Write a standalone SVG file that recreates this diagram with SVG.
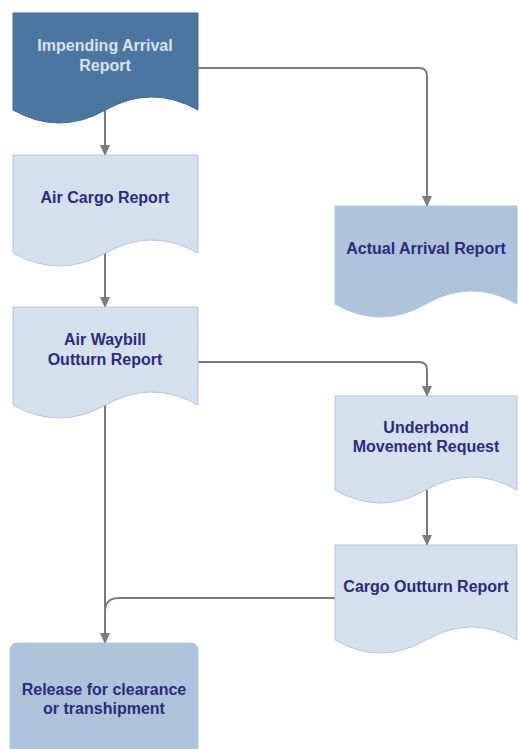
<svg xmlns="http://www.w3.org/2000/svg" width="519" height="749" viewBox="0 0 519 749">
<style>
.lbl{font-family:"Liberation Sans",Arial,sans-serif;font-weight:bold;font-size:16px;fill:#2b2b7e;text-anchor:middle}
.lt{fill:#d8e2ee}
.doc{stroke:#b4c5da;stroke-width:1}
.pale{fill:#d4e0ee}
.mid{fill:#adc2db}
.dark{fill:#4a77a2;stroke:#41698f}
.con{fill:none;stroke:#7b7b7d;stroke-width:2}
</style>
<defs>
<marker id="arr" markerUnits="userSpaceOnUse" markerWidth="11" markerHeight="10" refX="10" refY="5" orient="auto">
<path d="M0,0 L11,5 L0,10 z" fill="#7b7b7d"/>
</marker>
</defs>
<rect width="519" height="749" fill="#ffffff"/>
<g id="connectors">
<path class="con" d="M105,110 V155" marker-end="url(#arr)"/>
<path class="con" d="M105,253 V307" marker-end="url(#arr)"/>
<path class="con" d="M198,68 H419 Q427,68 427,76 V206" marker-end="url(#arr)"/>
<path class="con" d="M198,362 H419 Q427,362 427,370 V396" marker-end="url(#arr)"/>
<path class="con" d="M427,490 V545" marker-end="url(#arr)"/>
<path class="con" d="M105,405 V643" marker-end="url(#arr)"/>
<path class="con" d="M335,598 H119 Q105,598 105,612"/>
</g>
<g id="impending">
<path class="doc dark" d="M13,13 H198 V110 Q151.75,84 105.5,110 T13,110 Z"/>
<text class="lbl lt" x="105" y="51">Impending Arrival</text>
<text class="lbl lt" x="105" y="71">Report</text>
</g>
<g id="air-cargo">
<path class="doc pale" d="M13,155 H198 V253 Q151.75,227 105.5,253 T13,253 Z"/>
<text class="lbl" x="105" y="203">Air Cargo Report</text>
</g>
<g id="air-waybill">
<path class="doc pale" d="M13,307 H198 V405 Q151.75,379 105.5,405 T13,405 Z"/>
<text class="lbl" x="105" y="345">Air Waybill</text>
<text class="lbl" x="105" y="365">Outturn Report</text>
</g>
<g id="actual-arrival">
<path class="doc mid" d="M335,206 H517 V304 Q471.5,278 426,304 T335,304 Z"/>
<text class="lbl" x="426" y="254">Actual Arrival Report</text>
</g>
<g id="underbond">
<path class="doc pale" d="M335,396 H517 V490 Q471.5,464 426,490 T335,490 Z"/>
<text class="lbl" x="426" y="433">Underbond</text>
<text class="lbl" x="426" y="452">Movement Request</text>
</g>
<g id="cargo-outturn">
<path class="doc pale" d="M335,545 H517 V640 Q471.5,614 426,640 T335,640 Z"/>
<text class="lbl" x="426" y="592">Cargo Outturn Report</text>
</g>
<g id="release">
<rect class="doc mid" x="10" y="643" width="188" height="120" rx="7"/>
<text class="lbl" x="104" y="695">Release for clearance</text>
<text class="lbl" x="104" y="714">or transhipment</text>
</g>
</svg>
